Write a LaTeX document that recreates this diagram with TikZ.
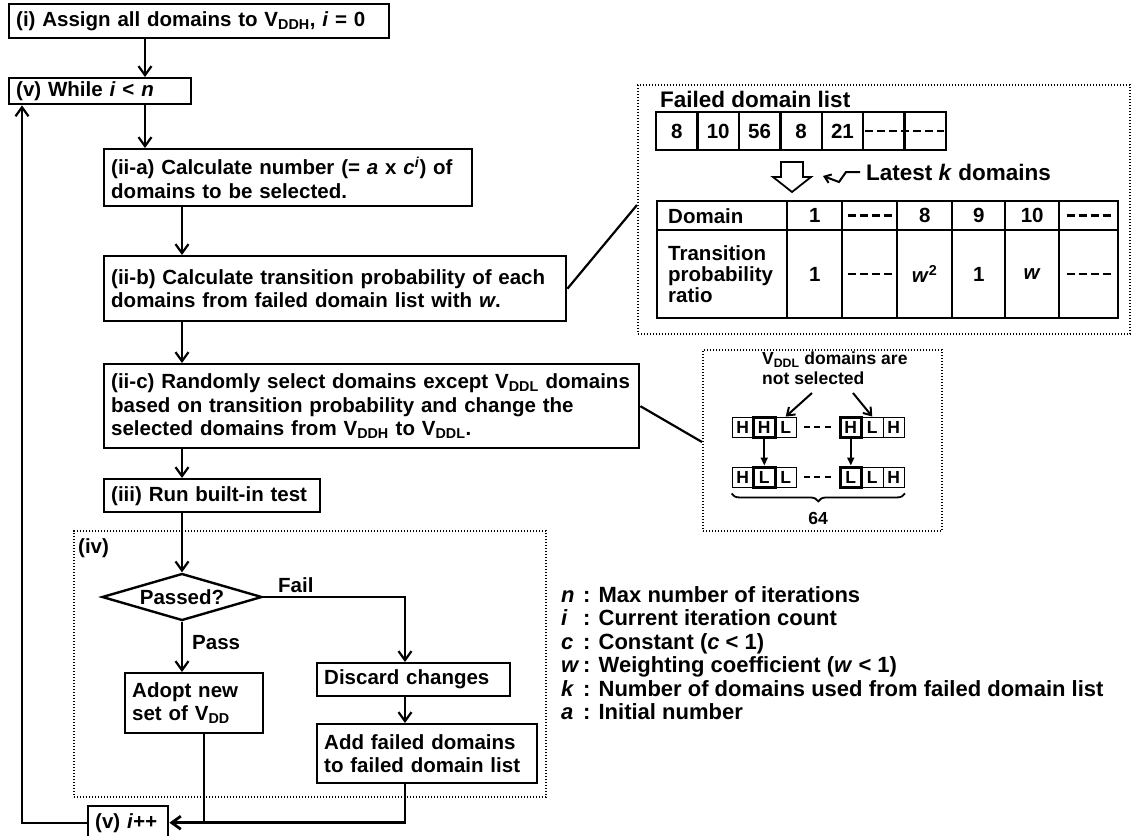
\documentclass[tikz,border=0pt]{standalone}
\usepackage{fontspec}
\setmainfont{Liberation Sans}
\usetikzlibrary{arrows.meta,shapes.geometric,decorations.pathreplacing}
\newcommand\mainf{\bfseries\fontsize{20.5}{23.5}\selectfont}
\newcommand\bigf{\bfseries\fontsize{22.5}{25}\selectfont}
\newcommand\tabf{\bfseries\fontsize{20.5}{21}\selectfont}
\newcommand\smf{\bfseries\fontsize{17.5}{20}\selectfont}
\newcommand\legf{\bfseries\fontsize{22}{23.4}\selectfont}
\newcommand\vsub[1]{V\textsubscript{#1}}
\newcommand\itl[1]{\textit{#1}}
\begin{document}
\begin{tikzpicture}[x=1pt,y=-1pt,
 box/.style={draw, line width=2.4pt, anchor=north west, align=left, inner xsep=7pt, inner ysep=0pt, font=\mainf},
 arr/.style={line width=2.2pt, -{Straight Barb[length=9pt,width=13pt]}},
 conn/.style={line width=2.2pt},
 dotbox/.style={draw, line width=2pt, dash pattern=on 1.4pt off 1.6pt, anchor=north west, inner sep=0pt},
 flcell/.style={draw, line width=2.4pt, minimum width=41.4, minimum height=38, inner sep=0pt, font=\mainf},
 tcell/.style={draw, line width=2.4pt, anchor=north west, inner sep=0pt, font=\tabf},
 hl/.style={draw, line width=0.9pt, minimum width=21.5, minimum height=20, inner sep=0pt, font=\smf},
 hlb/.style={hl, line width=3pt},
 dline/.style={line width=2.5pt, dash pattern=on 8pt off 4pt},
 dlh/.style={line width=2.5pt, dash pattern=on 6pt off 4.5pt},
 lab/.style={inner sep=0pt, font=\mainf},
]
\useasboundingbox (0,0) rectangle (1132,835);

% columns
\coordinate (c1) at (145,0);
\coordinate (c2) at (182,0);
\coordinate (ax) at (204,0);
\coordinate (fx) at (405,0);
\coordinate (rx) at (22,0);

% group (iv)
\node[dotbox, minimum width=472, minimum height=266] (iv) at (73,530) {};
\node[lab, anchor=north west] (ivl) at (78,538) {(iv)};

% flow boxes
\node[box, minimum width=380, text width=366, minimum height=34] (bi) at (8,3) {(i) Assign all domains to \vsub{DDH}, \itl{i} = 0};
\node[box, minimum width=182, text width=168, minimum height=26] (bv) at (8,77) {(v) While \itl{i} < \itl{n}};
\node[box, minimum width=368, text width=354, minimum height=57] (biia) at (103,148) {(ii-a) Calculate number (= \itl{a} x \itl{c}\textsuperscript{\itl{i}}) of\\domains to be selected.};
\node[box, minimum width=462, text width=448, minimum height=65] (biib) at (103,255) {(ii-b) Calculate transition probability of each\\domains from failed domain list with \itl{w}.};
\node[box, minimum width=535, text width=521, minimum height=84] (biic) at (103,363) {(ii-c) Randomly select domains except \vsub{DDL} domains\\based on transition probability and change the\\selected domains from \vsub{DDH} to \vsub{DDL}.};
\node[box, minimum width=216, text width=202, minimum height=33] (biii) at (103,478) {(iii) Run built-in test};
\node[draw, diamond, line width=2.4pt, aspect=3.4, minimum width=160, minimum height=47, inner sep=0pt, font=\mainf] (dia) at (182,597) {Passed?};
\node[lab, anchor=south west] (fail) at (278,593) {Fail};
\node[lab, anchor=west] (pass) at (192,643) {Pass};
\node[box, minimum width=138, text width=124, minimum height=60] (adopt) at (124,672) {Adopt new\\set of \vsub{DD}};
\node[box, minimum width=193, text width=179, minimum height=33] (disc) at (316,662) {Discard changes};
\node[box, minimum width=220, text width=206, minimum height=59] (add) at (316,723) {Add failed domains\\to failed domain list};
\node[box, minimum width=80, text width=66, minimum height=33] (vinc) at (87,805) {(v) \itl{i++}};

% flow connectors
\draw[arr] (c1 |- bi.south) -- (c1 |- bv.north);
\draw[arr] (c1 |- bv.south) -- (c1 |- biia.north);
\draw[arr] (c2 |- biia.south) -- (c2 |- biib.north);
\draw[arr] (c2 |- biib.south) -- (c2 |- biic.north);
\draw[arr] (c2 |- biic.south) -- (c2 |- biii.north);
\draw[arr] (c2 |- biii.south) -- (dia.north);
\draw[arr] (dia.south) -- (c2 |- adopt.north);
\draw[arr] (dia.east) -| (fx |- disc.north);
\draw[arr] (fx |- disc.south) -- (fx |- add.north);
\draw[conn, line width=2.8pt] (ax |- adopt.south) -- (ax |- vinc.east);
\draw[arr, line width=2.8pt] (fx |- add.south) |- (vinc.east);
\draw[arr] (vinc.west) -| (rx |- bv.south);

% ---- right upper panel
\node[dotbox, minimum width=492, minimum height=249] (zA) at (637,84) {};
\coordinate (zAp) at (637,205);
\draw[conn] (biib.east) -- (zAp);
\node[anchor=west, inner sep=0pt, font=\bigf] (fdl) at (660,99) {Failed domain list};
\foreach \v [count=\k] in {8,10,56,8,21,{},{}}
  \node[flcell] (fl\k) at ({656+41.43*(\k-0.5)},131) {\v};
\draw[dline] ([xshift=3pt]fl6.west) -- ([xshift=-3pt]fl7.east);
\draw[line width=1.8pt, fill=white, line join=miter] (781,162) -- (803,162) -- (803,177) -- (811,177) -- (792,192) -- (773,177) -- (781,177) -- cycle;
\node[anchor=west, inner sep=0pt, font=\bigf] (lat) at (866,172) {Latest \itl{k} domains};
\draw[line width=2pt, -{Straight Barb[length=6pt,width=9pt]}] ([xshift=-6pt]lat.west) -- ++(-14,0) -- ++(-7,10) -- ++(-16,-6);

\node[tcell, minimum width=130, text width=108, inner xsep=11pt, align=left, minimum height=29] (td) at (656,200) {Domain};
\node[tcell, minimum width=130, text width=108, inner xsep=11pt, align=left, minimum height=88] (tt) at (656,229) {Transition\\probability\\ratio};
\foreach \x/\w/\a/\b [count=\k] in {786/55/1/1, 841/55/{}/{}, 896/55/8/{\itl{w}\textsuperscript{2}}, 951/53/9/1, 1004/54/10/{\itl{w}}, 1058/59/{}/{}} {
  \node[tcell, minimum width=\w, minimum height=29] (ta\k) at (\x,200) {\a};
  \node[tcell, minimum width=\w, minimum height=88] (tb\k) at (\x,229) {\b};
}
\foreach \c in {ta2,ta6,tb2,tb6}
  \draw[dline] ([xshift=-22pt]\c.center) -- ([xshift=22pt]\c.center);

% ---- H/L inset
\node[dotbox, minimum width=239, minimum height=181] (zB) at (702,349) {};
\coordinate (zBp) at (702,442);
\draw[conn] (biic.east) -- (zBp);
\node[anchor=north west, align=left, inner sep=0pt, font=\smf] (nsel) at (762,352) {\vsub{DDL} domains are\\not selected};
\node[hl] (a1) at (742.75,427) {H};
\node[hl] (a3) at (785.75,427) {L};
\node[hl] (a5) at (872.25,427) {L};
\node[hl] (a6) at (893.75,427) {H};
\node[hlb] (a2) at (764.25,427) {H};
\node[hlb] (a4) at (850.75,427) {H};
\node[hl] (b1) at (742.75,477) {H};
\node[hl] (b3) at (785.75,477) {L};
\node[hl] (b5) at (872.25,477) {L};
\node[hl] (b6) at (893.75,477) {H};
\node[hlb] (b2) at (764.25,477) {L};
\node[hlb] (b4) at (850.75,477) {L};
\draw[dlh] ([xshift=7pt]a3.east) -- ([xshift=-7pt]a4.west);
\draw[dlh] ([xshift=7pt]b3.east) -- ([xshift=-7pt]b4.west);
\draw[line width=2pt, -{Triangle[length=8pt,width=7pt]}] (a2.south) -- (b2.north);
\draw[line width=2pt, -{Triangle[length=8pt,width=7pt]}] (a4.south) -- (b4.north);
\coordinate (s1) at (812,393);
\coordinate (s2) at (853,393);
\draw[line width=2pt, -{Straight Barb[length=7pt,width=10pt]}] (s1) -- (a3.north);
\draw[line width=2pt, -{Straight Barb[length=7pt,width=10pt]}] (s2) -- (a5.north);
\draw[line width=1.8pt, decorate, decoration={brace, mirror, amplitude=8pt}] ([yshift=-6pt]b1.south west) -- ([yshift=-6pt]b6.south east);
\node[inner sep=0pt, font=\smf] (n64) at (818,518) {64};

% ---- legend
\node[anchor=north west, inner sep=0pt, font=\legf] (leg) at (561,586) {\begin{tabular}{@{}l@{\,}l@{}}
\itl{n} & : Max number of iterations\\
\itl{i} & : Current iteration count\\
\itl{c} & : Constant (\itl{c} < 1)\\
\itl{w} & : Weighting coefficient (\itl{w} < 1)\\
\itl{k} & : Number of domains used from failed domain list\\
\itl{a} & : Initial number
\end{tabular}};
\end{tikzpicture}
\end{document}
